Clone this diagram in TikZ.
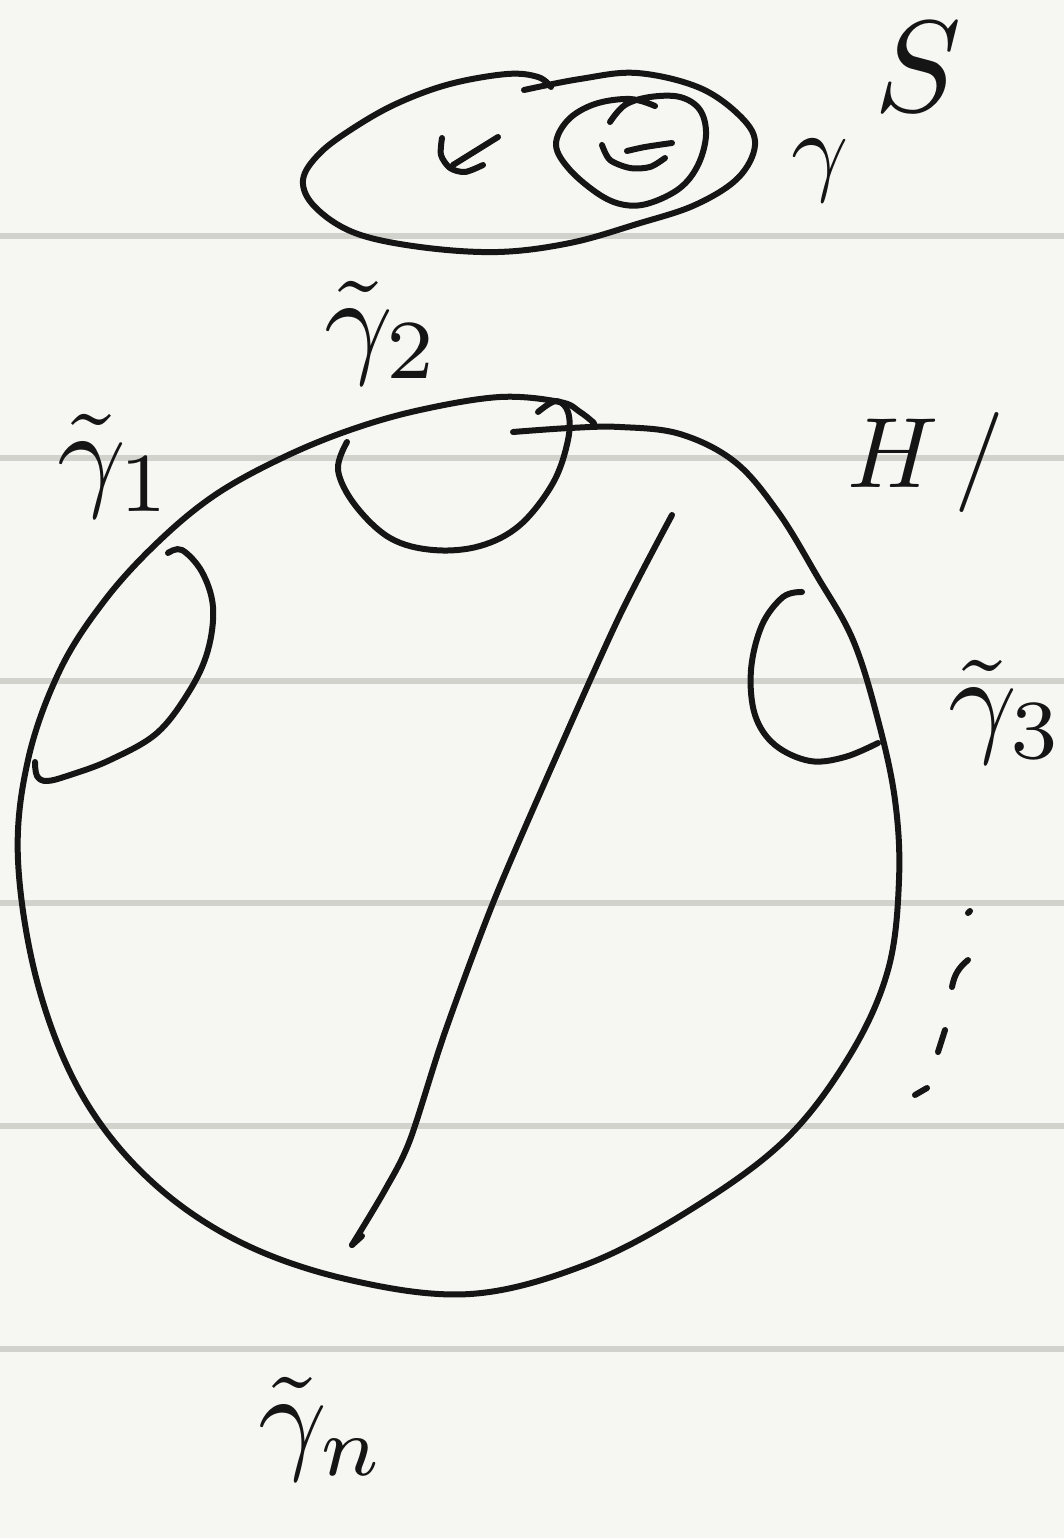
\documentclass[tikz,border=0pt]{standalone}
\usepackage{amsfonts, amssymb, amsmath}
\usepackage{xcolor}
\usepackage{tikz}
\definecolor{paper}{HTML}{F6F7F2}
\definecolor{ruling}{HTML}{D1D2CC}
\definecolor{ink}{HTML}{151515}

\begin{document}
\begin{tikzpicture}[x=1pt,y=-1pt,
    pen/.style={ink, line width=6pt, line cap=round, line join=round},
    lbl/.style={ink, inner sep=0pt, anchor=base west, scale=12}]
        \path[use as bounding box] (0,0) rectangle (1064,1538);
        \fill[paper] (0,0) rectangle (1064,1538);
        \foreach \y in {236,458,681,903,1126,1349}
            \draw[ruling, line width=6pt] (0,\y) -- (1064,\y);
        % the surface S
        \draw[pen] plot[smooth, tension=0.6] coordinates {(524,90) (580,79) (637,73) (700,88) (742,118) (755,145) (738,178) (695,205) (637,224) (570,243) (498,252) (420,247) (355,233) (315,207) (303,180) (320,153) (355,127) (398,103) (450,84) (507,74) (538,77) (551,87)};
        \draw[pen] plot[smooth] coordinates {(442,138) (441,155) (450,168) (465,172) (483,165)};
        \draw[pen] (498,137) -- (453,165);
        \draw[pen] plot[smooth, tension=0.6] coordinates {(610,122) (625,105) (650,97) (680,97) (700,110) (706,135) (698,165) (680,188) (650,203) (625,205) (600,195) (570,170) (556,145) (568,120) (595,104) (630,99) (655,106)};
        \draw[pen] plot[smooth] coordinates {(602,145) (610,160) (630,168) (650,167) (665,158)};
        \draw[pen] plot[smooth] coordinates {(627,151) (645,147) (672,143)};
        \node[lbl, scale=13/12] (sname) at (872,112) {$S$};
        \node[lbl, scale=10/12] (gname) at (789,183) {$\gamma$};
        % the disk
        \draw[pen] plot[smooth, tension=0.6] coordinates {(513,432) (570,428) (620,427) (680,434) (735,462) (778,512) (817,576) (853,640) (878,720) (895,800) (899,880) (888,970) (850,1055) (785,1140) (690,1210) (585,1265) (470,1294) (350,1280) (240,1242) (150,1180) (82,1095) (38,985) (18,860) (28,760) (60,670) (105,600) (158,542) (215,495) (282,458) (350,430) (420,410) (500,397) (560,402) (580,412) (594,423)};
        \draw[pen] plot[smooth, tension=0.6] coordinates {(168,553) (182,550) (202,572) (213,607) (208,650) (190,690) (157,733) (110,760) (70,775) (47,781) (37,776) (35,762)};
        \draw[pen] plot[smooth, tension=0.6] coordinates {(538,412) (556,401) (568,412) (568,440) (553,483) (520,525) (480,546) (433,550) (390,538) (355,505) (338,470) (347,442)};
        \draw[pen] plot[smooth, tension=0.6] coordinates {(802,592) (783,597) (762,625) (751,670) (755,715) (775,745) (810,761) (845,757) (878,743)};
        \draw[pen] plot[smooth, tension=0.5] coordinates {(672,515) (620,615) (560,748) (495,898) (445,1032) (410,1140) (385,1190) (352,1245)};
        \draw[pen] (352,1245) -- (362,1236);
        % dots
        \draw[pen] (970,911) -- (968,913);
        \draw[pen] (968,960) to[bend right=20] (952,987);
        \draw[pen] (945,1030) -- (938,1052);
        \draw[pen] (927,1088) -- (915,1095);
        \node[lbl] (gone) at (55,494) {$\tilde{\gamma}_1$};
        \node[lbl] (gtwo) at (322,361) {$\tilde{\gamma}_2$};
        \node[lbl] (gthree) at (946,740) {$\tilde{\gamma}_3$};
        \node[lbl] (gn) at (256,1457) {$\tilde{\gamma}_n$};
        \node[lbl, scale=10/12] (hname) at (845,487) {$H\,/$};
    \end{tikzpicture}
\end{document}
